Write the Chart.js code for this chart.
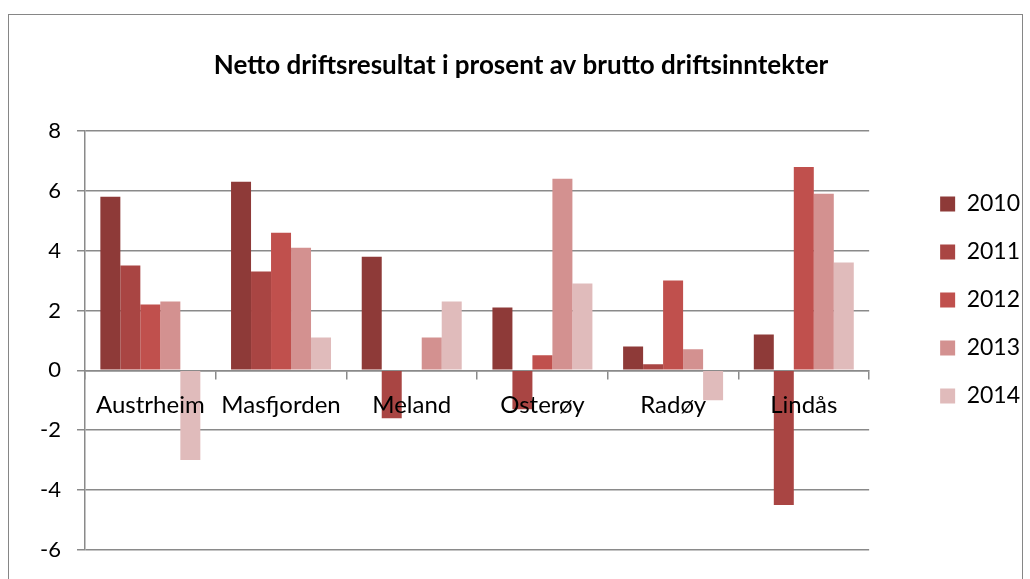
<!DOCTYPE html>
<html>
<head>
<meta charset="utf-8">
<script src="https://cdn.jsdelivr.net/npm/chart.js@4/dist/chart.umd.min.js"></script>
<style>
  body { margin: 0; background: #fff; }
  #frame {
    position: absolute;
    left: 8px;
    top: 14px;
    width: 1013px;
    height: 600px;
    border: 1px solid #868686;
  }
  #wrap { position: absolute; left: 0; top: 0; width: 1030px; height: 579px; }
</style>
</head>
<body>
<div id="frame"></div>
<div id="wrap"><canvas id="driftsresultat" width="1030" height="579"></canvas></div>
<script>
const kommuner = ['Austrheim', 'Masfjorden', 'Meland', 'Osterøy', 'Radøy', 'Lindås'];
const years = ['2010', '2011', '2012', '2013', '2014'];

const values2010 = [5.8, 6.3, 3.8, 2.1, 0.8, 1.2];
const values2011 = [3.5, 3.3, -1.6, -1.3, 0.2, -4.5];
const values2012 = [2.2, 4.6, 0, 0.5, 3.0, 6.8];
const values2013 = [2.3, 4.1, 1.1, 6.4, 0.7, 5.9];
const values2014 = [-3.0, 1.1, 2.3, 2.9, -1.0, 3.6];

const yTicks = [-6, -4, -2, 0, 2, 4, 6, 8];

const colors = ['#8e3a38', '#a94543', '#c0504d', '#d39190', '#e0bbbb'];
const gridColor = '#8a8a8a';
const fontFamily = 'Lato, "Open Sans", sans-serif';

let allValues = [values2010, values2011, values2012, values2013, values2014];

const ctx = document.getElementById('driftsresultat');

new Chart(ctx, {
  type: 'bar',
  data: {
    labels: kommuner,
    datasets: years.map((year, i) => ({
      label: year,
      data: allValues[i],
      backgroundColor: colors[i],
      borderWidth: 0,
      categoryPercentage: 0.765,
      barPercentage: 1,
    })),
  },
  options: {
    responsive: false,
    animation: false,
    layout: { padding: { top: 48, right: 0, bottom: 27, left: 12 } },
    plugins: {
      title: {
        display: true,
        text: 'Netto driftsresultat i prosent av brutto driftsinntekter',
        color: '#000',
        font: { family: fontFamily, size: 26, weight: 'bold' },
        padding: { top: 2.4, bottom: 49.4 },
      },
      legend: {
        position: 'right',
        labels: {
          boxWidth: 15,
          boxHeight: 15,
          padding: 25,
          color: '#000',
          font: { family: fontFamily, size: 23 },
        },
      },
      tooltip: { enabled: false },
    },
    scales: {
      x: {
        position: { y: 0 },
        grid: {
          display: true,
          drawOnChartArea: false,
          drawTicks: true,
          tickLength: 8,
          color: gridColor,
          lineWidth: 1.5,
        },
        border: { display: true, color: gridColor, width: 1.5 },
        ticks: {
          z: 1, // labels sit on top of the bars, like in the original
          color: '#000',
          padding: 13,
          maxRotation: 0,
          autoSkip: false,
          font: { family: fontFamily, size: 24 },
        },
      },
      y: {
        min: -6,
        max: 8,
        afterFit: (scale) => {
          scale.width = 73;
        },
        afterBuildTicks: (scale) => {
          scale.ticks = yTicks.map((v) => ({ value: v }));
        },
        grid: {
          color: gridColor,
          lineWidth: 1.5,
          tickLength: 8,
        },
        border: { display: true, color: gridColor, width: 1.5 },
        ticks: {
          color: '#000',
          padding: 16,
          font: { family: fontFamily, size: 22 },
        },
      },
      // empty axis on the right, only to keep a gap before the legend
      spacer: {
        type: 'linear',
        position: 'right',
        afterFit: (scale) => {
          scale.width = 46;
        },
        grid: { display: false },
        border: { display: false },
        ticks: { display: false },
      },
    },
  },
});
</script>
</body>
</html>
